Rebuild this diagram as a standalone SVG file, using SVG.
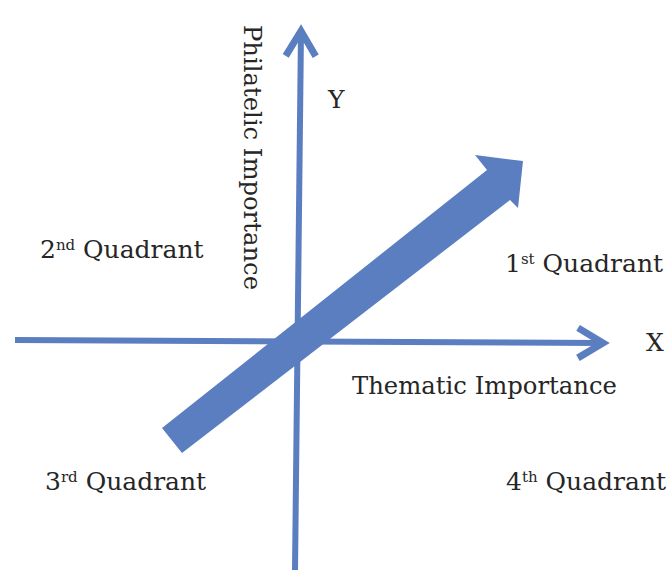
<svg xmlns="http://www.w3.org/2000/svg" width="670" height="570" viewBox="0 0 670 570">
  <style>
    .lbl { font-family: "DejaVu Serif", "Liberation Serif", serif; font-size: 25px; fill: #262626; }
    .sup { font-size: 15px; }
    .axis { stroke: #5b7ec1; stroke-width: 6; fill: none; }
  </style>
  <defs>
    <marker id="head" markerUnits="userSpaceOnUse" orient="auto" refX="0" refY="0" markerWidth="40" markerHeight="40" viewBox="-32 -20 40 40" overflow="visible">
      <path d="M-25,-15 L0,0 L-25,15" fill="none" stroke="#5b7ec1" stroke-width="7" stroke-linejoin="miter"/>
    </marker>
  </defs>
  <rect width="670" height="570" fill="#ffffff"/>
  <g id="connectors">
    <line id="y-axis" class="axis" x1="295" y1="570" x2="301" y2="31" marker-end="url(#head)"/>
    <line id="x-axis" class="axis" x1="15" y1="340" x2="603" y2="343" marker-end="url(#head)"/>
    <polygon id="trend-arrow" points="162,428 487,170 475,155 523,161 518,208 510,200 182,453" fill="#5b7ec1"/>
  </g>
  <g id="y-label"><text class="lbl" x="328" y="108">Y</text></g>
  <g id="x-label"><text class="lbl" x="646" y="351">X</text></g>
  <g id="philatelic"><text class="lbl" transform="translate(244,25) rotate(90)" x="0" y="0" textLength="265" lengthAdjust="spacingAndGlyphs">Philatelic Importance</text></g>
  <g id="thematic"><text class="lbl" x="352" y="394" textLength="265" lengthAdjust="spacingAndGlyphs">Thematic Importance</text></g>
  <g id="q2"><text class="lbl" x="40" y="258">2<tspan class="sup" dy="-8">nd</tspan><tspan dy="8"> Quadrant</tspan></text></g>
  <g id="q1"><text class="lbl" x="505" y="272">1<tspan class="sup" dy="-8">st</tspan><tspan dy="8"> Quadrant</tspan></text></g>
  <g id="q3"><text class="lbl" x="45" y="490">3<tspan class="sup" dy="-8">rd</tspan><tspan dy="8"> Quadrant</tspan></text></g>
  <g id="q4"><text class="lbl" x="506" y="490">4<tspan class="sup" dy="-8">th</tspan><tspan dy="8"> Quadrant</tspan></text></g>
</svg>
